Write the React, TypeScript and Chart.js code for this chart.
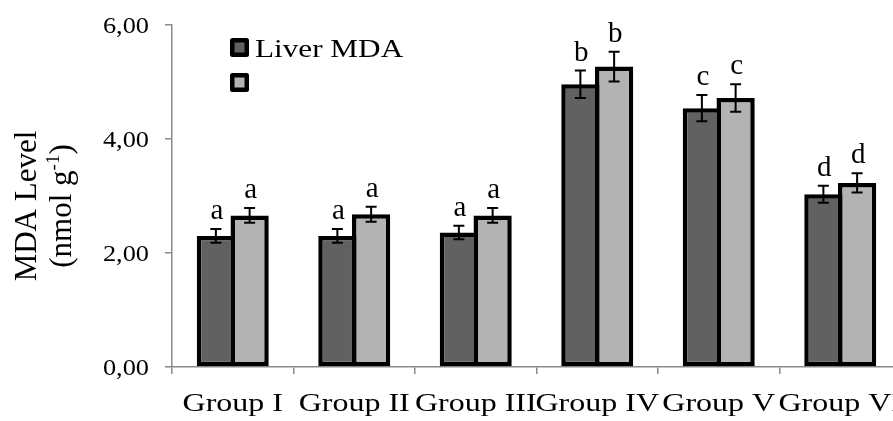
import React, { useEffect, useRef } from "react";
import { Chart, registerables } from "chart.js";

Chart.register(...registerables);

const categories = ["Group I", "Group II", "Group III", "Group IV", "Group V", "Group VI"];
const seriesLabels = ["Liver MDA", ""];
const darkValues = [2.3, 2.3, 2.36, 4.96, 4.54, 3.03];
const lightValues = [2.66, 2.68, 2.66, 5.27, 4.72, 3.23];
const darkErrors = [0.12, 0.12, 0.12, 0.24, 0.23, 0.15];
const lightErrors = [0.13, 0.13, 0.13, 0.26, 0.24, 0.17];
const darkLetters = ["a", "a", "a", "b", "c", "d"];
const lightLetters = ["a", "a", "a", "b", "c", "d"];
const yTickValues = [0, 2, 4, 6];
const yTickLabels = ["0,00", "2,00", "4,00", "6,00"];
const yTitleLine1 = "MDA Level";
const yTitleLine2 = ["(nmol g", "-1", ")"];

const DARK = "#616161";
const LIGHT = "#b3b3b3";
const AXIS = "#8a8a8a";
const FONT = '"Liberation Serif"';

function drawText(
  ctx: CanvasRenderingContext2D,
  s: string,
  x: number,
  y: number,
  size: number,
  sx: number,
  align: CanvasTextAlign
) {
  ctx.save();
  ctx.translate(x, y);
  ctx.scale(sx, 1);
  ctx.font = `${size}px ${FONT}`;
  ctx.textAlign = align;
  ctx.textBaseline = "alphabetic";
  ctx.fillStyle = "#000";
  ctx.fillText(s, 0, 0);
  ctx.restore();
}

const errors = [darkErrors, lightErrors];
const letters = [darkLetters, lightLetters];

const overlayPlugin = {
  id: "overlay",
  afterDatasetsDraw(chart: any) {
    const ctx: CanvasRenderingContext2D = chart.ctx;
    const y = chart.scales.y;
    chart.data.datasets.forEach((ds: any, di: number) => {
      const meta = chart.getDatasetMeta(di);
      meta.data.forEach((bar: any, i: number) => {
        const v = ds.data[i];
        const e = errors[di][i];
        const top = y.getPixelForValue(v + e);
        const bot = y.getPixelForValue(v - e);
        const x = bar.x;
        ctx.save();
        ctx.strokeStyle = "#000";
        ctx.lineWidth = 2;
        ctx.beginPath();
        ctx.moveTo(x, top);
        ctx.lineTo(x, bot);
        ctx.moveTo(x - 5.5, top);
        ctx.lineTo(x + 5.5, top);
        ctx.moveTo(x - 5.5, bot);
        ctx.lineTo(x + 5.5, bot);
        ctx.stroke();
        ctx.restore();
        drawText(ctx, letters[di][i], x + 1, top - 10, 29, 1, "center");
      });
    });
  },
  afterDraw(chart: any) {
    const ctx: CanvasRenderingContext2D = chart.ctx;
    const y = chart.scales.y;
    const xs = chart.scales.x;
    const area = chart.chartArea;
    yTickValues.forEach((v, i) => {
      drawText(ctx, yTickLabels[i], 149, y.getPixelForValue(v) + 8, 22.5, 1.17, "right");
    });
    categories.forEach((c, i) => {
      drawText(ctx, c, xs.getPixelForValue(i), area.bottom + 44, 26, 1.23, "center");
    });
    ctx.save();
    ctx.translate(36, 206);
    ctx.rotate(-Math.PI / 2);
    ctx.fillStyle = "#000";
    ctx.textBaseline = "alphabetic";
    ctx.font = `31px ${FONT}`;
    ctx.textAlign = "center";
    ctx.fillText(yTitleLine1, 0, 0);
    ctx.restore();

    ctx.save();
    ctx.translate(71, 206);
    ctx.rotate(-Math.PI / 2);
    ctx.fillStyle = "#000";
    ctx.textBaseline = "alphabetic";
    ctx.textAlign = "left";
    ctx.font = `31px ${FONT}`;
    const w1 = ctx.measureText(yTitleLine2[0]).width;
    const w3 = ctx.measureText(yTitleLine2[2]).width;
    ctx.font = `19px ${FONT}`;
    const w2 = ctx.measureText(yTitleLine2[1]).width;
    let px = -(w1 + w2 + w3) / 2;
    ctx.font = `31px ${FONT}`;
    ctx.fillText(yTitleLine2[0], px, 0);
    px += w1;
    ctx.font = `19px ${FONT}`;
    ctx.fillText(yTitleLine2[1], px, -12);
    px += w2;
    ctx.font = `31px ${FONT}`;
    ctx.fillText(yTitleLine2[2], px, 0);
    ctx.restore();

    chart.data.datasets.forEach((ds: any, di: number) => {
      const bx = 230;
      const by = 38 + di * 35;
      ctx.save();
      ctx.fillStyle = "#000";
      ctx.beginPath();
      (ctx as any).roundRect(bx, by, 19, 19, 2.5);
      ctx.fill();
      ctx.fillStyle = ds.backgroundColor;
      ctx.fillRect(bx + 4.5, by + 4.5, 10, 10);
      ctx.restore();
      if (ds.label) drawText(ctx, ds.label, 255, by + 18.5, 26, 1.2, "left");
    });
  },
};

export default function App() {
  const ref = useRef<HTMLCanvasElement | null>(null);
  useEffect(() => {
    if (!ref.current) return;
    const chart = new Chart(ref.current, {
      type: "bar",
      data: {
        labels: categories,
        datasets: [
          {
            label: seriesLabels[0],
            data: darkValues,
            backgroundColor: DARK,
            borderColor: "#000",
            borderWidth: 4.5,
            borderSkipped: false,
            barPercentage: 1.133,
            categoryPercentage: 0.5556,
          },
          {
            label: seriesLabels[1],
            data: lightValues,
            backgroundColor: LIGHT,
            borderColor: "#000",
            borderWidth: 4.5,
            borderSkipped: false,
            barPercentage: 1.133,
            categoryPercentage: 0.5556,
          },
        ],
      },
      options: {
        animation: false,
        responsive: true,
        maintainAspectRatio: false,
        layout: { padding: { left: 0, top: 25, right: 19, bottom: 0 } },
        plugins: {
          legend: { display: false },
          tooltip: { enabled: false },
          title: { display: false },
        },
        scales: {
          x: {
            z: 1,
            ticks: { display: false },
            grid: {
              offset: true,
              drawOnChartArea: false,
              drawTicks: true,
              tickLength: 7,
              color: AXIS,
              lineWidth: 1.5,
            },
            border: { display: true, color: AXIS, width: 1.5 },
            afterFit: (s: any) => {
              s.height = 54;
            },
          },
          y: {
            min: 0,
            max: 6,
            ticks: { display: false, stepSize: 2 },
            grid: {
              drawOnChartArea: false,
              drawTicks: true,
              tickLength: 7,
              color: AXIS,
              lineWidth: 1.5,
            },
            border: { display: true, color: AXIS, width: 1.5 },
            afterFit: (s: any) => {
              s.width = 172;
            },
          },
        },
      },
      plugins: [overlayPlugin],
    });
    let alive = true;
    const fonts: any = (document as any).fonts;
    if (fonts && fonts.load) {
      Promise.all([fonts.load(`25px ${FONT}`), fonts.load(`19px ${FONT}`)])
        .then(() => fonts.ready)
        .then(() => {
          if (alive) chart.draw();
        })
        .catch(() => {});
    }
    return () => {
      alive = false;
      chart.destroy();
    };
  }, []);
  return (
    <div
      style={{
        position: "fixed",
        left: 0,
        top: 0,
        width: 893,
        height: 421,
        overflow: "hidden",
        background: "#fff",
      }}
    >
      <div style={{ position: "relative", width: 920, height: 421 }}>
        <canvas ref={ref} />
      </div>
    </div>
  );
}
